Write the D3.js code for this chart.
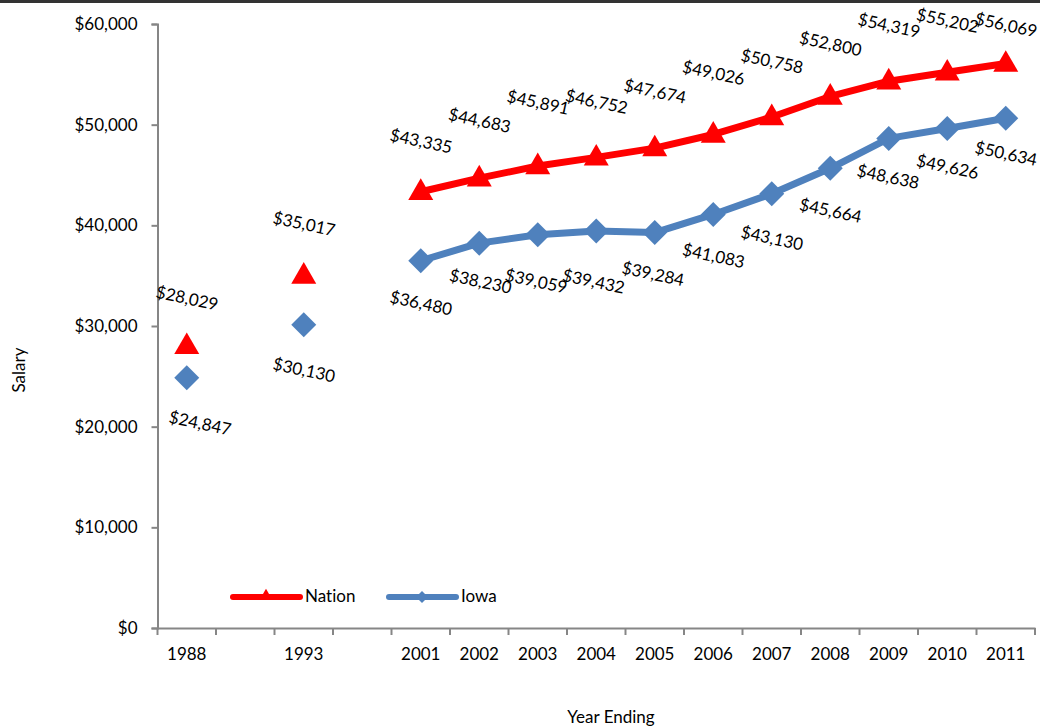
<!DOCTYPE html>
<html><head><meta charset="utf-8">
<script src="https://cdn.jsdelivr.net/npm/d3@7"></script>
<style>
body{margin:0;background:#fff;}
svg text{font-family:Lato,"Open Sans",sans-serif;fill:#000;font-variant-ligatures:none;font-feature-settings:"liga" 0;}
</style></head><body>
<svg id="c" width="1040" height="726"></svg>
<script>
const categories = ["1988","","1993","","2001","2002","2003","2004","2005","2006","2007","2008","2009","2010","2011"];
const nation = [28029,null,35017,null,43335,44683,45891,46752,47674,49026,50758,52800,54319,55202,56069];
const iowa   = [24847,null,30130,null,36480,38230,39059,39432,39284,41083,43130,45664,48638,49626,50634];
const yTicks = [0,10000,20000,30000,40000,50000,60000];
const seriesNames = ["Nation","Iowa"];
// label placement offsets (pixels), separate from the data
const nationLabelDy = [-46,0,-50,0,-49,-56,-62,-54,-55,-60,-54,-51,-54,-50,-37];
const iowaLabelDy   = [47,0,47,0,44,40,48,52,43,43,46,44,40,40,37];
const iowaLabelDx   = [13,0,0,0,0,1,-2,-3,-2,0,0,0,-1,0,0];

const svg = d3.select("#c");
const L=157.5, R=1035, T=24, B=628;
const FS="17px";
const x = d3.scaleBand().domain(d3.range(categories.length)).range([L,R]);
const y = d3.scaleLinear().domain([0,60000]).range([B,T]);
const axisColor="#868686";
const fmt = v => "$" + d3.format(",")(v);
const cx = i => x(i)+x.bandwidth()/2;

// top border
svg.append("rect").attr("x",0).attr("y",0).attr("width",1040).attr("height",3).attr("fill","#333");

// y axis
const ya = svg.append("g").attr("transform",`translate(${L},0)`)
  .call(d3.axisLeft(y).tickValues(yTicks).tickFormat(fmt).tickSize(6).tickPadding(14));
ya.select(".domain").attr("stroke",axisColor).attr("stroke-width",2);
ya.selectAll(".tick line").attr("stroke",axisColor).attr("stroke-width",2);
ya.selectAll("text").style("font-size",FS).style("font-family","Lato");

// x axis
const xa = svg.append("g").attr("transform",`translate(0,${B})`)
  .call(d3.axisBottom(x).tickFormat(i=>categories[i]).tickSize(0).tickPadding(20));
xa.select(".domain").attr("stroke",axisColor).attr("stroke-width",2);
xa.selectAll("text").style("font-size",FS).style("font-family","Lato");
const bounds = d3.range(categories.length+1).map(i=>L + i*x.step());
svg.append("g").selectAll("line").data(bounds).join("line")
  .attr("x1",d=>d).attr("x2",d=>d).attr("y1",B).attr("y2",B+7)
  .attr("stroke",axisColor).attr("stroke-width",2);

// titles
svg.append("text").attr("transform","translate(25,370) rotate(-90)").attr("text-anchor","middle")
  .style("font-size",FS).text("Salary");
svg.append("text").attr("x",611).attr("y",723).attr("text-anchor","middle")
  .style("font-size",FS).text("Year Ending");

const red="#FF0000", blue="#4F81BD";
const line = d3.line().defined(d=>d.v!=null && d.i>=4).x(d=>cx(d.i)).y(d=>y(d.v));
const toPts = arr => arr.map((v,i)=>({v,i}));

svg.append("path").datum(toPts(iowa)).attr("d",line).attr("fill","none").attr("stroke",blue).attr("stroke-width",7).attr("stroke-linejoin","round");
svg.append("path").datum(toPts(nation)).attr("d",line).attr("fill","none").attr("stroke",red).attr("stroke-width",7).attr("stroke-linejoin","round");

const tri = d3.symbol().type(d3.symbolTriangle).size(270);
const dia = (s)=>`M0,${-s}L${s},0L0,${s}L${-s},0Z`;

svg.append("g").selectAll("path").data(toPts(iowa).filter(d=>d.v!=null)).join("path")
  .attr("d",dia(12.5)).attr("fill",blue)
  .attr("transform",d=>`translate(${cx(d.i)},${y(d.v)})`);
svg.append("g").selectAll("path").data(toPts(nation).filter(d=>d.v!=null)).join("path")
  .attr("d",tri).attr("fill",red)
  .attr("transform",d=>`translate(${cx(d.i)},${y(d.v)+1})`);

// data labels
function labels(arr, dys, dxs){
  svg.append("g").selectAll("text").data(toPts(arr).filter(d=>d.v!=null)).join("text")
    .attr("text-anchor","middle").attr("dominant-baseline","middle")
    .style("font-size",FS)
    .attr("transform",d=>`translate(${cx(d.i)+(dxs?dxs[d.i]:0)},${y(d.v)+dys[d.i]}) rotate(12)`)
    .text(d=>fmt(d.v));
}
labels(nation,nationLabelDy);
labels(iowa,iowaLabelDy,iowaLabelDx);

// legend
const lg = svg.append("g");
[[233,red,"Nation"],[389,blue,"Iowa"]].forEach(([lx,c,name],k)=>{
  lg.append("line").attr("x1",lx).attr("x2",lx+67).attr("y1",597).attr("y2",597)
    .attr("stroke",c).attr("stroke-width",6).attr("stroke-linecap","round");
  lg.append("path").attr("d",k===0?d3.symbol().type(d3.symbolTriangle).size(70)():dia(6))
    .attr("fill",c).attr("transform",`translate(${lx+33},${k===0?596:597})`);
  lg.append("text").attr("x",lx+72).attr("y",598).attr("dominant-baseline","middle")
    .style("font-size",FS).text(seriesNames[k]);
});
</script></body></html>
